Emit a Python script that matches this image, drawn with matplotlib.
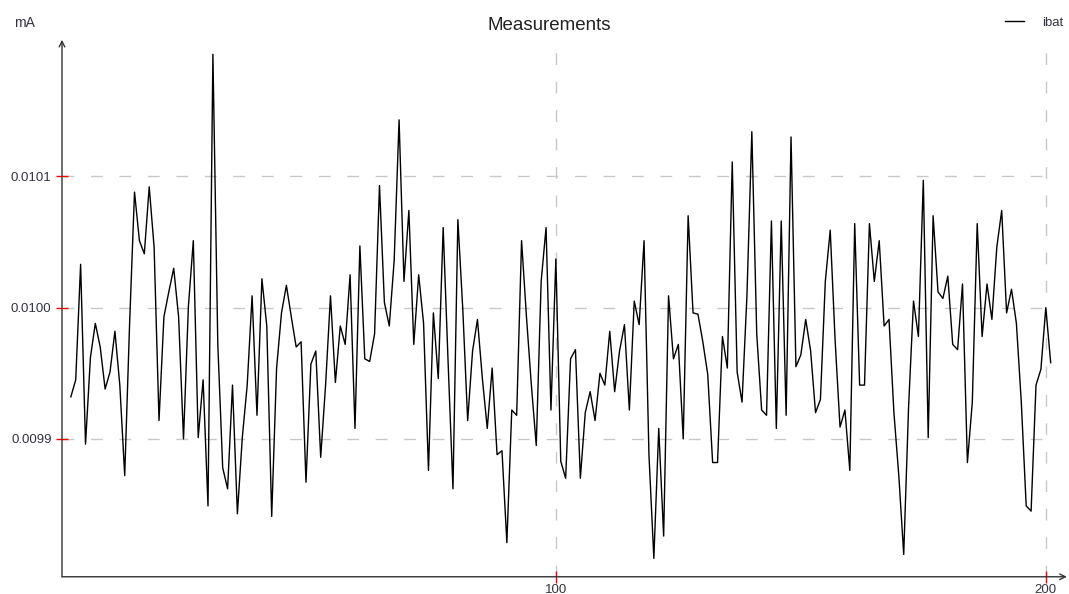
import numpy as np
import matplotlib
matplotlib.use('Agg')
import matplotlib.pyplot as plt

plt.rcParams['font.family'] = ['Liberation Sans', 'DejaVu Sans']

# sample index and measured battery current (mA)
sample = list(range(1, 202))
ibat = [
    0.009932, 0.009945, 0.010033, 0.009896, 0.009962, 0.009988, 0.009970, 0.009938, 0.009951, 0.009982,
    0.009941, 0.009872, 0.009988, 0.010088, 0.010051, 0.010041, 0.010092, 0.010046, 0.009914, 0.009993,
    0.010012, 0.010030, 0.009993, 0.009900, 0.010001, 0.010051, 0.009901, 0.009945, 0.009849, 0.010193,
    0.009972, 0.009878, 0.009862, 0.009941, 0.009843, 0.009901, 0.009941, 0.010009, 0.009918, 0.010022,
    0.009986, 0.009841, 0.009954, 0.009996, 0.010017, 0.009993, 0.009970, 0.009974, 0.009867, 0.009957,
    0.009967, 0.009886, 0.009941, 0.010009, 0.009943, 0.009986, 0.009972, 0.010025, 0.009908, 0.010047,
    0.009961, 0.009959, 0.009980, 0.010093, 0.010004, 0.009986, 0.010036, 0.010143, 0.010020, 0.010074,
    0.009972, 0.010025, 0.009988, 0.009876, 0.009996, 0.009946, 0.010061, 0.009959, 0.009862, 0.010067,
    0.009999, 0.009914, 0.009967, 0.009991, 0.009946, 0.009908, 0.009954, 0.009888, 0.009891, 0.009821,
    0.009922, 0.009918, 0.010051, 0.009993, 0.009941, 0.009895, 0.010020, 0.010061, 0.009922, 0.010037,
    0.009883, 0.009870, 0.009961, 0.009968, 0.009870, 0.009920, 0.009936, 0.009914, 0.009950, 0.009941,
    0.009982, 0.009936, 0.009967, 0.009987, 0.009922, 0.010005, 0.009987, 0.010051, 0.009888, 0.009809,
    0.009908, 0.009826, 0.010009, 0.009961, 0.009972, 0.009900, 0.010070, 0.009996, 0.009995, 0.009974,
    0.009949, 0.009882, 0.009882, 0.009978, 0.009954, 0.010111, 0.009951, 0.009928, 0.010009, 0.010134,
    0.009980, 0.009922, 0.009918, 0.010066, 0.009908, 0.010066, 0.009918, 0.010130, 0.009955, 0.009964,
    0.009991, 0.009967, 0.009920, 0.009930, 0.010020, 0.010059, 0.009975, 0.009909, 0.009922, 0.009876,
    0.010064, 0.009941, 0.009941, 0.010064, 0.010020, 0.010051, 0.009986, 0.009991, 0.009920, 0.009872,
    0.009812, 0.009925, 0.010005, 0.009978, 0.010097, 0.009901, 0.010070, 0.010012, 0.010007, 0.010024,
    0.009972, 0.009968, 0.010018, 0.009882, 0.009928, 0.010064, 0.009978, 0.010018, 0.009991, 0.010046,
    0.010074, 0.009996, 0.010014, 0.009988, 0.009928, 0.009849, 0.009845, 0.009941, 0.009953, 0.010000,
    0.009958,
]
yticks = [0.0099, 0.0100, 0.0101]
ytick_labels = ['0.0099', '0.0100', '0.0101']
xticks = [100, 200]

fig = plt.figure(figsize=(10.69, 5.94), dpi=100)
ax = fig.add_axes([0.058, 0.029, 0.940, 0.904])

ax.plot(sample, ibat, color='black', lw=1, label='ibat')

ax.set_xlim(-0.8, 204.3)
ax.set_ylim(0.009795, 0.010204)

ax.set_xticks(xticks)
ax.set_yticks(yticks)
ax.set_yticklabels(ytick_labels)
ax.tick_params(axis='both', color='red', direction='inout', length=8, width=1,
               labelsize=9.5, labelcolor='#333344')
ax.tick_params(axis='x', pad=1)

grid_style = dict(color='#c8c8c8', lw=1, dashes=(8.5, 12))
for yv in yticks:
    ax.axhline(yv, xmax=0.985, zorder=0, **grid_style)
for xv in xticks:
    ax.axvline(xv, zorder=0, **grid_style)

for s in ax.spines.values():
    s.set_visible(False)
arrow = dict(arrowstyle='->', color='#333333', lw=1, shrinkA=0, shrinkB=0)
ax.annotate('', xy=(0, 1.0), xytext=(0, 0), xycoords='axes fraction', arrowprops=arrow)
ax.annotate('', xy=(1.0, 0), xytext=(0, 0), xycoords='axes fraction', arrowprops=arrow)

fig.text(549 / 1069, 0.957, 'Measurements', fontsize=13.5, color='#222222',
         ha='center', va='center')
fig.text(0.013, 0.962, 'mA', fontsize=10, color='#333344', va='center')
fig.legend(loc='center right', bbox_to_anchor=(1.006, 0.962), frameon=False, fontsize=9.5,
           handlelength=1.4, handletextpad=1.4, labelcolor='#333344')

fig.savefig('out.png', dpi=100)
